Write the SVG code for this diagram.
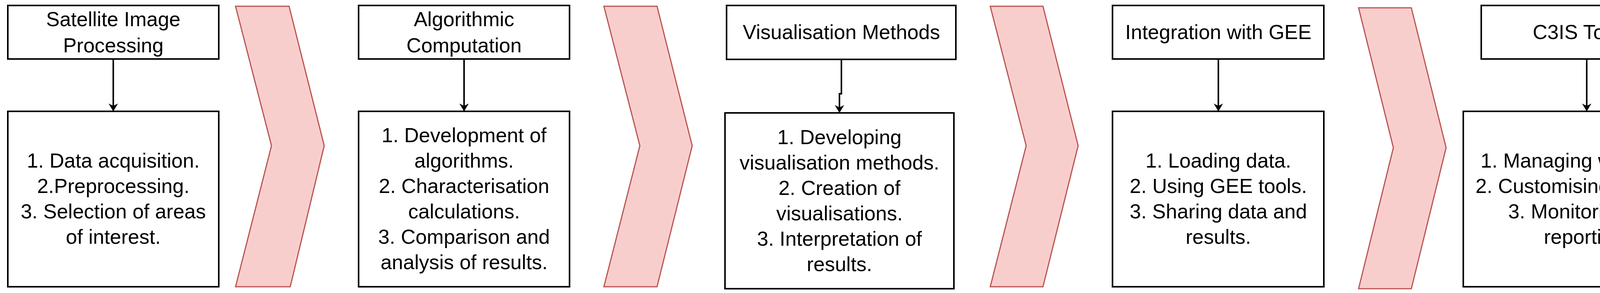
<svg xmlns="http://www.w3.org/2000/svg" width="4395" height="750" viewBox="0 0 4395 750">
<style>
.box{fill:#fff;stroke:#000;stroke-width:4}
.chev{fill:#f8cecc;stroke:#b85450;stroke-width:3}
.t{font-family:"Liberation Sans",Arial,sans-serif;font-size:52px;fill:#000;text-anchor:middle}
.c{fill:none;stroke:#000;stroke-width:4}
</style>
<defs>
<marker id="ah" viewBox="0 0 20 24" refX="18" refY="12" markerWidth="20" markerHeight="24" markerUnits="userSpaceOnUse" orient="auto">
<path d="M0,0 L20,12 L0,24 L6,12 Z" fill="#000"/>
</marker>
</defs>
<g id="chevrons">
<polygon class="chev" points="603,16 740,16 830,373 743,734 603,734 695,373"/>
<polygon class="chev" points="1546,16 1682,16 1772,373 1682,734 1546,734 1638,373"/>
<polygon class="chev" points="2535,16 2670,16 2760,373 2670,734 2535,734 2627,373"/>
<polygon class="chev" points="3478,20 3613,20 3702,378 3613,739 3478,739 3567,378"/>
</g>
<g id="connectors">
<path class="c" d="M290,151 V283" marker-end="url(#ah)"/>
<path class="c" d="M1188,151 V283" marker-end="url(#ah)"/>
<path class="c" d="M2154,152 V240 H2149 V287" marker-end="url(#ah)"/>
<path class="c" d="M3119,151 V283" marker-end="url(#ah)"/>
<path class="c" d="M4062,151 V283" marker-end="url(#ah)"/>
</g>
<g id="n1t"><rect class="box" x="20" y="14" width="540" height="137"/>
<text class="t"><tspan x="290" y="67">Satellite Image</tspan><tspan x="290" y="134">Processing</tspan></text></g>
<g id="n1b"><rect class="box" x="20" y="285" width="540" height="449"/>
<text class="t"><tspan x="290" y="429">1. Data acquisition.</tspan><tspan x="290" y="494">2.Preprocessing.</tspan><tspan x="290" y="559">3. Selection of areas</tspan><tspan x="290" y="624">of interest.</tspan></text></g>
<g id="n2t"><rect class="box" x="918" y="14" width="540" height="137"/>
<text class="t"><tspan x="1188" y="67">Algorithmic</tspan><tspan x="1188" y="134">Computation</tspan></text></g>
<g id="n2b"><rect class="box" x="918" y="285" width="540" height="449"/>
<text class="t"><tspan x="1188" y="364">1. Development of</tspan><tspan x="1188" y="429">algorithms.</tspan><tspan x="1188" y="494">2. Characterisation</tspan><tspan x="1188" y="559">calculations.</tspan><tspan x="1188" y="624">3. Comparison and</tspan><tspan x="1188" y="689">analysis of results.</tspan></text></g>
<g id="n3t"><rect class="box" x="1860" y="14" width="587" height="138"/>
<text class="t" x="2154" y="100">Visualisation Methods</text></g>
<g id="n3b"><rect class="box" x="1856" y="289" width="586" height="450"/>
<text class="t"><tspan x="2149" y="369">1. Developing</tspan><tspan x="2149" y="434">visualisation methods.</tspan><tspan x="2149" y="499">2. Creation of</tspan><tspan x="2149" y="564">visualisations.</tspan><tspan x="2149" y="629">3. Interpretation of</tspan><tspan x="2149" y="694">results.</tspan></text></g>
<g id="n4t"><rect class="box" x="2848" y="14" width="541" height="137"/>
<text class="t" x="3119" y="100">Integration with GEE</text></g>
<g id="n4b"><rect class="box" x="2848" y="285" width="541" height="449"/>
<text class="t"><tspan x="3119" y="429">1. Loading data.</tspan><tspan x="3119" y="494">2. Using GEE tools.</tspan><tspan x="3119" y="559">3. Sharing data and</tspan><tspan x="3119" y="624">results.</tspan></text></g>
<g id="n5t"><rect class="box" x="3792" y="14" width="539" height="137"/>
<text class="t" x="4062" y="100">C3IS Toolkit</text></g>
<g id="n5b"><rect class="box" x="3746" y="285" width="631" height="449"/>
<text class="t"><tspan x="4062" y="429">1. Managing workflows.</tspan><tspan x="4062" y="494">2. Customising the tools.</tspan><tspan x="4062" y="559">3. Monitoring and</tspan><tspan x="4062" y="624">reporting.</tspan></text></g>
</svg>
